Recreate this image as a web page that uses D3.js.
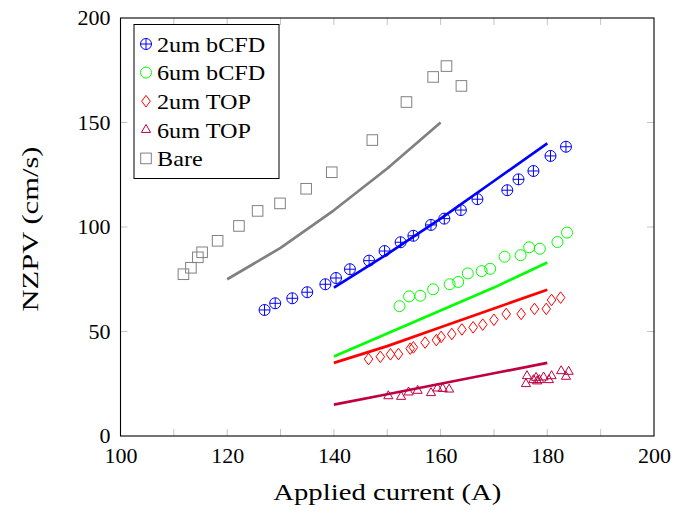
<!DOCTYPE html>
<html>
<head>
<meta charset="utf-8">
<script src="https://cdn.jsdelivr.net/npm/d3@7/dist/d3.min.js"></script>
<style>
  html, body { margin: 0; padding: 0; background: #fff; }
</style>
</head>
<body>
<svg id="chart" width="688" height="513"></svg>
<script>
// Measured NZPV against applied current for each configuration
const bCFD2Current = [127.0, 129.0, 132.2, 135.0, 138.4, 140.4, 143.0, 146.6, 149.5, 152.5, 154.9, 158.2, 160.7, 163.8, 166.9, 172.5, 174.6, 177.4, 180.6, 183.5];
const bCFD2Nzpv    = [60.3, 63.5, 65.9, 68.8, 72.6, 75.6, 79.8, 83.9, 88.5, 92.7, 95.8, 101.0, 104.0, 108.1, 113.3, 117.6, 122.8, 126.8, 134.0, 138.4];

const bCFD6Current = [152.3, 154.1, 156.2, 158.6, 161.7, 163.3, 165.1, 167.7, 169.3, 172.0, 175.0, 176.6, 178.6, 181.9, 183.7];
const bCFD6Nzpv    = [62.1, 66.8, 67.1, 70.2, 72.6, 73.7, 77.8, 78.9, 80.0, 85.8, 86.5, 90.3, 89.6, 92.8, 97.3];

const top2Current = [146.5, 148.7, 150.6, 152.1, 154.3, 154.9, 157.1, 159.2, 160.1, 162.1, 164.0, 166.1, 167.9, 170.0, 172.3, 175.1, 177.6, 179.8, 180.8, 182.5];
const top2Nzpv    = [36.8, 37.9, 39.1, 39.2, 41.8, 42.4, 44.7, 45.9, 47.4, 48.8, 51.0, 52.0, 53.3, 55.6, 58.4, 58.4, 60.8, 60.8, 65.1, 66.2];

const top6Current = [150.2, 152.6, 154.0, 155.7, 158.2, 159.4, 160.4, 161.6, 176.2, 176.0, 177.4, 177.9, 178.1, 178.5, 179.3, 180.3, 180.8, 182.6, 183.5, 184.0];
const top6Nzpv    = [19.1, 18.8, 20.9, 21.7, 20.6, 22.8, 22.6, 22.3, 28.7, 24.9, 26.8, 27.9, 26.2, 26.8, 28.1, 26.8, 28.7, 31.1, 28.4, 30.8];

const bareCurrent = [111.8, 113.2, 114.5, 115.3, 118.2, 122.2, 125.7, 129.9, 134.8, 139.6, 147.2, 153.6, 158.6, 161.1, 163.9];
const bareNzpv    = [77.4, 80.5, 85.5, 87.9, 93.4, 100.5, 107.7, 111.3, 118.3, 126.2, 141.6, 159.8, 171.8, 177.0, 167.5];

// Model predictions (solid lines)
const modelCurrent   = [140, 150, 160, 170, 180];
const model2bCFD     = [71, 87, 104, 122, 140];
const model6bCFD     = [38, 49, 60, 71, 83];
const model2TOP      = [35, 43, 52, 61, 70];
const model6TOP      = [15, 20, 25, 30, 35];
const bareModelCurrent = [120, 130, 140, 150, 160];
const bareModel      = [75, 90, 108, 128, 150];

const xTicks = [100, 120, 140, 160, 180, 200];
const xMinorTicks = [110, 130, 150, 170, 190];
const yTicks = [0, 50, 100, 150, 200];

const legendLabels = ["2um bCFD", "6um bCFD", "2um TOP", "6um TOP", "Bare"];

const FAMILY = "'Liberation Serif', 'DejaVu Serif', serif";
const FONT = 22;

const svg = d3.select("#chart");
const margin = { left: 120.5, right: 34, top: 18, bottom: 77 };
const W = 688, H = 513;
const x = d3.scaleLinear().domain([100, 200]).range([margin.left, W - margin.right]);
const y = d3.scaleLinear().domain([0, 200]).range([H - margin.bottom, margin.top]);

const tickColor = "#c4c4c4";
const tickLen = 7;

function styleText(sel, size) {
  sel.attr("font-family", FAMILY).style("font-family", FAMILY)
     .style("font-size", (size || FONT) + "px").attr("fill", "#000");
  return sel;
}
// widen glyphs a little, Computer Modern runs wider than Times
function widen(sel, factor) {
  sel.each(function () {
    const len = this.getComputedTextLength();
    d3.select(this).attr("textLength", len * factor).attr("lengthAdjust", "spacingAndGlyphs");
  });
  return sel;
}

// ticks (drawn inside the frame on all four sides)
const tg = svg.append("g");
[...xTicks, ...xMinorTicks].forEach(t => {
  if (t === 100 || t === 200) return;
  tg.append("line").attr("x1", x(t)).attr("x2", x(t)).attr("y1", y(0)).attr("y2", y(0) - tickLen)
    .attr("stroke", tickColor).attr("stroke-width", 1);
  tg.append("line").attr("x1", x(t)).attr("x2", x(t)).attr("y1", y(200)).attr("y2", y(200) + tickLen)
    .attr("stroke", tickColor).attr("stroke-width", 1);
});
yTicks.forEach(t => {
  if (t === 0 || t === 200) return;
  tg.append("line").attr("x1", x(100)).attr("x2", x(100) + tickLen).attr("y1", y(t)).attr("y2", y(t))
    .attr("stroke", tickColor).attr("stroke-width", 1);
  tg.append("line").attr("x1", x(200)).attr("x2", x(200) - tickLen).attr("y1", y(t)).attr("y2", y(t))
    .attr("stroke", tickColor).attr("stroke-width", 1);
});

// tick labels
const xAxis = d3.axisBottom(x).tickValues(xTicks).tickSize(0).tickPadding(0);
const gx = svg.append("g").attr("transform", `translate(0,${y(0)})`).call(xAxis);
gx.attr("font-family", null);
gx.select(".domain").remove();
styleText(gx.selectAll("text")).attr("y", 27).attr("dy", null);

const yAxis = d3.axisLeft(y).tickValues(yTicks).tickSize(0).tickPadding(10);
const gy = svg.append("g").attr("transform", `translate(${x(100)},0)`).call(yAxis);
gy.attr("font-family", null);
gy.select(".domain").remove();
styleText(gy.selectAll("text")).attr("dy", "0.3em");

// axis titles
styleText(svg.append("text").attr("x", (x(100) + x(200)) / 2).attr("y", 500)
  .attr("text-anchor", "middle").attr("textLength", 228).attr("lengthAdjust", "spacingAndGlyphs")
  .text("Applied current (A)"), 23);
styleText(svg.append("text").attr("transform", `translate(38,${(y(0) + y(200)) / 2 + 2}) rotate(-90)`)
  .attr("text-anchor", "middle").attr("textLength", 165).attr("lengthAdjust", "spacingAndGlyphs")
  .text("NZPV (cm/s)"), 23);

// clip for plot area
svg.append("clipPath").attr("id", "plotclip").append("rect")
  .attr("x", x(100)).attr("y", y(200)).attr("width", x(200) - x(100)).attr("height", y(0) - y(200));

const plot = svg.append("g").attr("clip-path", "url(#plotclip)");
const lineGen = d3.line().x(d => x(d[0])).y(d => y(d[1]));

const colors = {
  blue: "#0000ff", green: "#00ff00", red: "#ff0000", purple: "#bf0040", gray: "#808080"
};

// marker painters
const R = 5.5;
function markCircPlus(g, cx, cy, c) {
  g.append("circle").attr("cx", cx).attr("cy", cy).attr("r", R).attr("fill", "none").attr("stroke", c).attr("stroke-width", 1);
  g.append("path").attr("d", `M${cx - R},${cy}H${cx + R}M${cx},${cy - R}V${cy + R}`).attr("stroke", c).attr("stroke-width", 1);
}
function markCirc(g, cx, cy, c) {
  g.append("circle").attr("cx", cx).attr("cy", cy).attr("r", R).attr("fill", "none").attr("stroke", c).attr("stroke-width", 1);
}
function markDiamond(g, cx, cy, c) {
  const w = 4.3, h = 5.8;
  g.append("path").attr("d", `M${cx},${cy - h}L${cx + w},${cy}L${cx},${cy + h}L${cx - w},${cy}Z`)
    .attr("fill", "none").attr("stroke", c).attr("stroke-width", 1);
}
function markTriangle(g, cx, cy, c) {
  const r = 5.3;
  const p = [[cx, cy - r], [cx + r * 0.866, cy + r * 0.5], [cx - r * 0.866, cy + r * 0.5]];
  g.append("path").attr("d", `M${p[0]}L${p[1]}L${p[2]}Z`).attr("fill", "none").attr("stroke", c).attr("stroke-width", 1);
}
function markSquare(g, cx, cy, c) {
  const s = 5.3;
  g.append("rect").attr("x", cx - s).attr("y", cy - s).attr("width", 2 * s).attr("height", 2 * s)
    .attr("fill", "none").attr("stroke", c).attr("stroke-width", 1);
}

const zip = (a, b) => a.map((v, i) => [v, b[i]]);

// model lines
[[bareModelCurrent, bareModel, colors.gray],
 [modelCurrent, model2bCFD, colors.blue],
 [modelCurrent, model6bCFD, colors.green],
 [modelCurrent, model2TOP, colors.red],
 [modelCurrent, model6TOP, colors.purple]].forEach(([xs, ys, c]) => {
  plot.append("path").datum(zip(xs, ys)).attr("d", lineGen)
    .attr("fill", "none").attr("stroke", c).attr("stroke-width", 2.7).attr("stroke-linejoin", "round");
});

// measured points
const series = [
  [bCFD2Current, bCFD2Nzpv, colors.blue, markCircPlus],
  [bCFD6Current, bCFD6Nzpv, colors.green, markCirc],
  [top2Current, top2Nzpv, colors.red, markDiamond],
  [top6Current, top6Nzpv, colors.purple, markTriangle],
  [bareCurrent, bareNzpv, colors.gray, markSquare]
];
series.forEach(([xs, ys, c, mk]) => {
  const g = plot.append("g");
  zip(xs, ys).forEach(d => mk(g, x(d[0]), y(d[1]), c));
});

// frame
svg.append("rect").attr("x", x(100)).attr("y", y(200)).attr("width", x(200) - x(100)).attr("height", y(0) - y(200))
  .attr("fill", "none").attr("stroke", "#000").attr("stroke-width", 1.1);

// legend
const lg = svg.append("g");
lg.append("rect").attr("x", 134).attr("y", 24.5).attr("width", 145).attr("height", 154)
  .attr("fill", "#fff").attr("stroke", "#000").attr("stroke-width", 1);
series.forEach((s, i) => {
  const cy = 44 + i * 28.6;
  s[3](lg, 146, cy, s[2]);
  const t = styleText(lg.append("text").attr("x", 157).attr("y", cy).attr("dy", "0.35em").text(legendLabels[i]));
  widen(t, 1.1);
});
</script>
</body>
</html>
